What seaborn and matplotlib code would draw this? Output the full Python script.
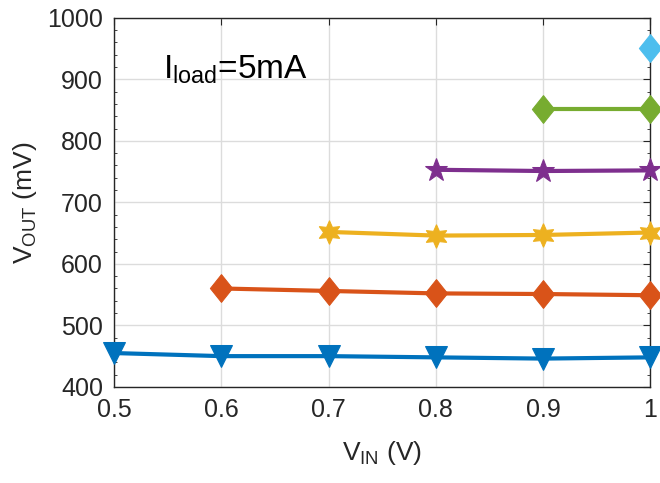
import numpy as np
import pandas as pd
import matplotlib.pyplot as plt
import seaborn as sns
from matplotlib import font_manager
from matplotlib.ticker import MultipleLocator

# V_IN values and V_OUT (mV) per target level
vin_450 = [0.5, 0.6, 0.7, 0.8, 0.9, 1.0]
vout_450 = [455, 450, 450, 448, 446, 448]
vin_550 = [0.6, 0.7, 0.8, 0.9, 1.0]
vout_550 = [560, 556, 552, 551, 549]
vin_650 = [0.7, 0.8, 0.9, 1.0]
vout_650 = [652, 646, 647, 651]
vin_750 = [0.8, 0.9, 1.0]
vout_750 = [753, 751, 752]
vin_850 = [0.9, 1.0]
vout_850 = [852, 852]
vin_950 = [1.0]
vout_950 = [951]

x_ticks = [0.5, 0.6, 0.7, 0.8, 0.9, 1.0]
x_labels = ['0.5', '0.6', '0.7', '0.8', '0.9', '1']
y_ticks = [400, 500, 600, 700, 800, 900, 1000]

# MATLAB-like diamond (a bit taller than wide)
diamond = [(0, 1), (0.8, 0), (0, -1), (-0.8, 0), (0, 1)]

series = [
    (vin_450, vout_450, '#0072BD', 'v', 16),
    (vin_550, vout_550, '#D95319', diamond, 20),
    (vin_650, vout_650, '#EDB120', (6, 1, 0), 17),
    (vin_750, vout_750, '#7E2F8E', '*', 17),
    (vin_850, vout_850, '#77AC30', diamond, 20),
    (vin_950, vout_950, '#4DBEEE', diamond, 20),
]

sns.set_style('white')
plt.rcParams['font.family'] = ['Liberation Sans', 'DejaVu Sans']

# narrow font for the annotation if available
try:
    font_manager.findfont('Liberation Sans Narrow', fallback_to_default=False)
    note_font, note_size = 'Liberation Sans Narrow', 27
except Exception:
    note_font, note_size = 'Liberation Sans', 24

fig = plt.figure(figsize=(6.6, 4.83), dpi=100)
ax = fig.add_axes([0.173, 0.199, 0.812, 0.764])

for xs, ys, c, m, ms in series:
    df = pd.DataFrame({'vin': xs, 'vout': ys})
    sns.lineplot(data=df, x='vin', y='vout', ax=ax, color=c, marker=m,
                 markersize=ms, markeredgecolor=c, linewidth=3, clip_on=False,
                 zorder=3)

ax.set_xlim(0.5, 1.0)
ax.set_ylim(400, 1000)
ax.set_xticks(x_ticks)
ax.set_xticklabels(x_labels)
ax.set_yticks(y_ticks)
ax.yaxis.set_minor_locator(MultipleLocator(20))
ax.grid(True, color='#dcdcdc', linewidth=1)
ax.set_axisbelow(True)
ax.tick_params(axis='both', which='major', direction='in', length=5,
               labelsize=18, labelcolor='#262626', top=True, right=True,
               color='#262626', pad=8)
ax.tick_params(axis='y', which='minor', direction='in', length=2.5,
               left=True, right=True, color='#262626')
for s in ax.spines.values():
    s.set_color('#262626')
    s.set_linewidth(1)

ax.set_xlabel(r'V$_{\mathregular{IN}}$ (V)', fontsize=19, color='#262626', labelpad=12)
ax.set_ylabel(r'V$_{\mathregular{OUT}}$ (mV)', fontsize=19, color='#262626', labelpad=6)

ax.text(0.092, 0.86, r'I$_{\mathregular{load}}$=5mA', transform=ax.transAxes,
        fontsize=note_size, family=[note_font, 'DejaVu Sans'],
        color='black', va='center', ha='left')

fig.savefig('out.png', dpi=100)
